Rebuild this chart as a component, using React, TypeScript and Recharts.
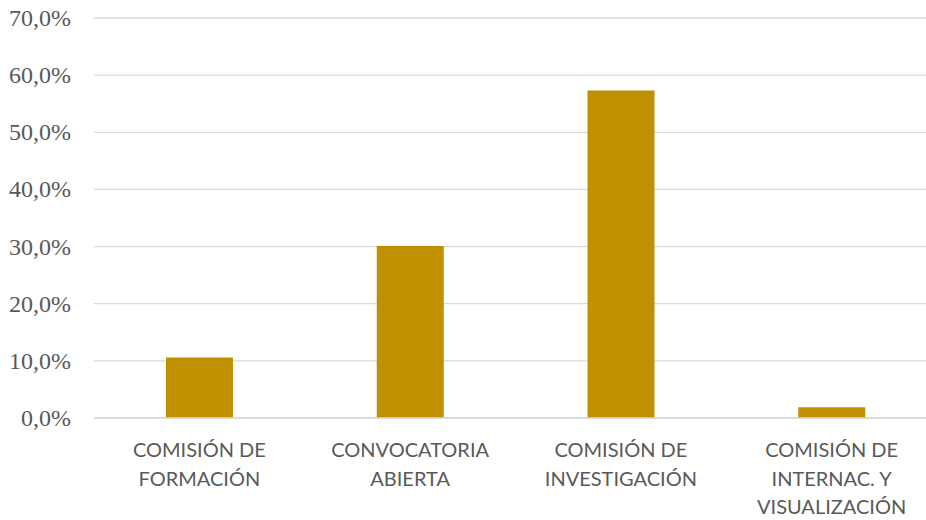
import { Bar, BarChart, CartesianGrid, XAxis, YAxis } from "recharts";

const categories = [
  "COMISIÓN DE FORMACIÓN",
  "CONVOCATORIA ABIERTA",
  "COMISIÓN DE INVESTIGACIÓN",
  "COMISIÓN DE INTERNAC. Y VISUALIZACIÓN",
];
const shares = [10.6, 30.1, 57.3, 1.9];
const yTicks = [0, 10, 20, 30, 40, 50, 60, 70];

const data = categories.map((name, i) => ({ name, share: shares[i] }));

function wrap(label: string, maxChars = 13) {
  const lines: string[] = [];
  let cur = "";
  for (const word of label.split(" ")) {
    const next = cur ? cur + " " + word : word;
    if (next.length > maxChars && cur) {
      lines.push(cur);
      cur = word;
    } else {
      cur = next;
    }
  }
  if (cur) lines.push(cur);
  return lines;
}

function CategoryTick({ x, y, payload }: any) {
  const lines = wrap(payload.value);
  return (
    <text
      x={x}
      y={y}
      textAnchor="middle"
      fill="#595959"
      fontFamily="Lato, 'Liberation Sans', sans-serif"
      fontSize={20}
    >
      {lines.map((line, i) => (
        <tspan key={i} x={x} y={y + 39 + i * 28.5}>
          {line}
        </tspan>
      ))}
    </text>
  );
}

function PercentTick({ x, y, payload }: any) {
  return (
    <text
      x={x}
      y={y}
      dy={8}
      textAnchor="end"
      fill="#595959"
      fontFamily="Liberation Serif, Times New Roman, serif"
      fontSize={24}
    >
      {payload.value.toFixed(1).replace(".", ",") + "%"}
    </text>
  );
}

export default function App() {
  return (
    <div
      style={{
        position: "absolute",
        left: 0,
        top: 0,
        width: 926,
        height: 520,
        overflow: "hidden",
        background: "#fff",
      }}
    >
      <BarChart
        width={940}
        height={520}
        data={data}
        margin={{ top: 18, right: 3, bottom: 0, left: 0 }}
        barSize={67}
      >
        <CartesianGrid vertical={false} stroke="#D9D9D9" strokeWidth={1.3} />
        <XAxis
          dataKey="name"
          height={102}
          axisLine={{ stroke: "#D9D9D9", strokeWidth: 1.3 }}
          tickLine={false}
          tickSize={0}
          tickMargin={0}
          interval={0}
          tick={<CategoryTick />}
        />
        <YAxis
          width={94}
          domain={[0, 70]}
          ticks={yTicks}
          axisLine={false}
          tickLine={false}
          tickSize={0}
          tickMargin={23}
          tick={<PercentTick />}
        />
        <Bar dataKey="share" fill="#BF9000" isAnimationActive={false} />
      </BarChart>
    </div>
  );
}
